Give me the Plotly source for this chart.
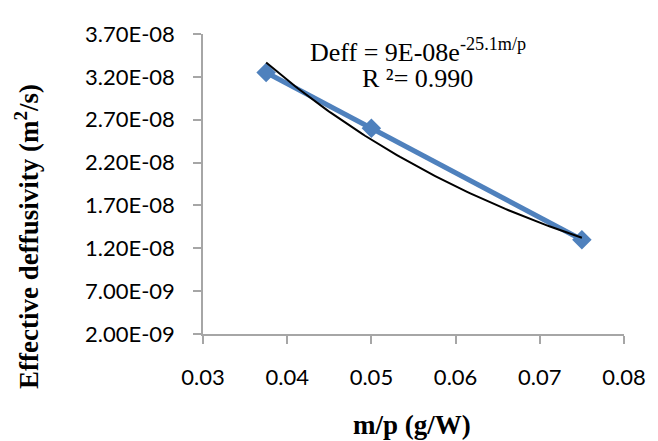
import numpy as np
import plotly.graph_objects as go

# Data
mp = [0.0375, 0.05, 0.075]
deff = [3.25e-08, 2.60e-08, 1.30e-08]
y_tickvals = [2e-09, 7e-09, 1.2e-08, 1.7e-08, 2.2e-08, 2.7e-08, 3.2e-08, 3.7e-08]
y_ticktext = ["2.00E-09", "7.00E-09", "1.20E-08", "1.70E-08", "2.20E-08", "2.70E-08", "3.20E-08", "3.70E-08"]
x_tickvals = [0.03, 0.04, 0.05, 0.06, 0.07, 0.08]
x_ticktext = ["0.03", "0.04", "0.05", "0.06", "0.07", "0.08"]

# Exponential trendline (least squares on ln y, as Excel does)
b, lna = np.polyfit(np.array(mp), np.log(np.array(deff)), 1)
xt = np.linspace(min(mp), max(mp), 100)
yt = np.exp(lna) * np.exp(b * xt)

fig = go.Figure()
fig.add_trace(go.Scatter(
    x=mp, y=deff, mode="lines+markers",
    line=dict(color="#4F81BD", width=5),
    marker=dict(symbol="diamond", size=15, color="#4F81BD"),
    showlegend=False, hoverinfo="skip"))
fig.add_trace(go.Scatter(
    x=xt, y=yt, mode="lines",
    line=dict(color="black", width=2),
    showlegend=False, hoverinfo="skip"))

axis_common = dict(
    showgrid=False, zeroline=False, showline=True,
    linecolor="#A6A6A6", linewidth=1.5,
    ticks="outside", ticklen=8, tickcolor="#A6A6A6", tickwidth=1.5,
    tickfont=dict(family="Lato, Open Sans, sans-serif", size=22, color="black"),
)

fig.update_xaxes(range=[0.03, 0.08], tickvals=x_tickvals, ticktext=x_ticktext,
                 ticklabelstandoff=15, **axis_common)
fig.update_yaxes(range=[2e-09, 3.7e-08], tickvals=y_tickvals, ticktext=y_ticktext,
                 ticklabelstandoff=14, **axis_common)

title_font = dict(family="Liberation Serif", size=27, color="black")
fig.add_annotation(xref="paper", yref="paper", x=(23-203)/429, y=1-(233-23)/311,
                   xanchor="center", yanchor="middle",
                   text="<b>Effective deffusivity (m<sup>2</sup>/s)</b>", textangle=-90,
                   showarrow=False, font=title_font)
fig.add_annotation(xref="paper", yref="paper", x=(416-203)/429, y=-(428-334)/311,
                   xanchor="center", yanchor="middle",
                   text="<b>m/p (g/W)</b>", showarrow=False, font=title_font)

ann_font = dict(family="Liberation Serif", size=26, color="black")
fig.add_annotation(xref="paper", yref="paper", x=(422-203)/429, y=1-(40-23)/311,
                   xanchor="center", yanchor="middle",
                   text="Deff = 9E-08e<sup>-25.1m/p</sup>", showarrow=False, font=ann_font)
fig.add_annotation(xref="paper", yref="paper", x=(422-203)/429, y=1-(69-23)/311,
                   xanchor="center", yanchor="middle",
                   text="R ²= 0.990", showarrow=False, font=ann_font)

# page has an 8px body margin, so the figure is made 8px smaller and margins shifted
fig.update_layout(
    width=650, height=433,
    margin=dict(l=195, r=26, t=15, b=107),
    plot_bgcolor="white", paper_bgcolor="white",
)

fig.write_html("out.html")
